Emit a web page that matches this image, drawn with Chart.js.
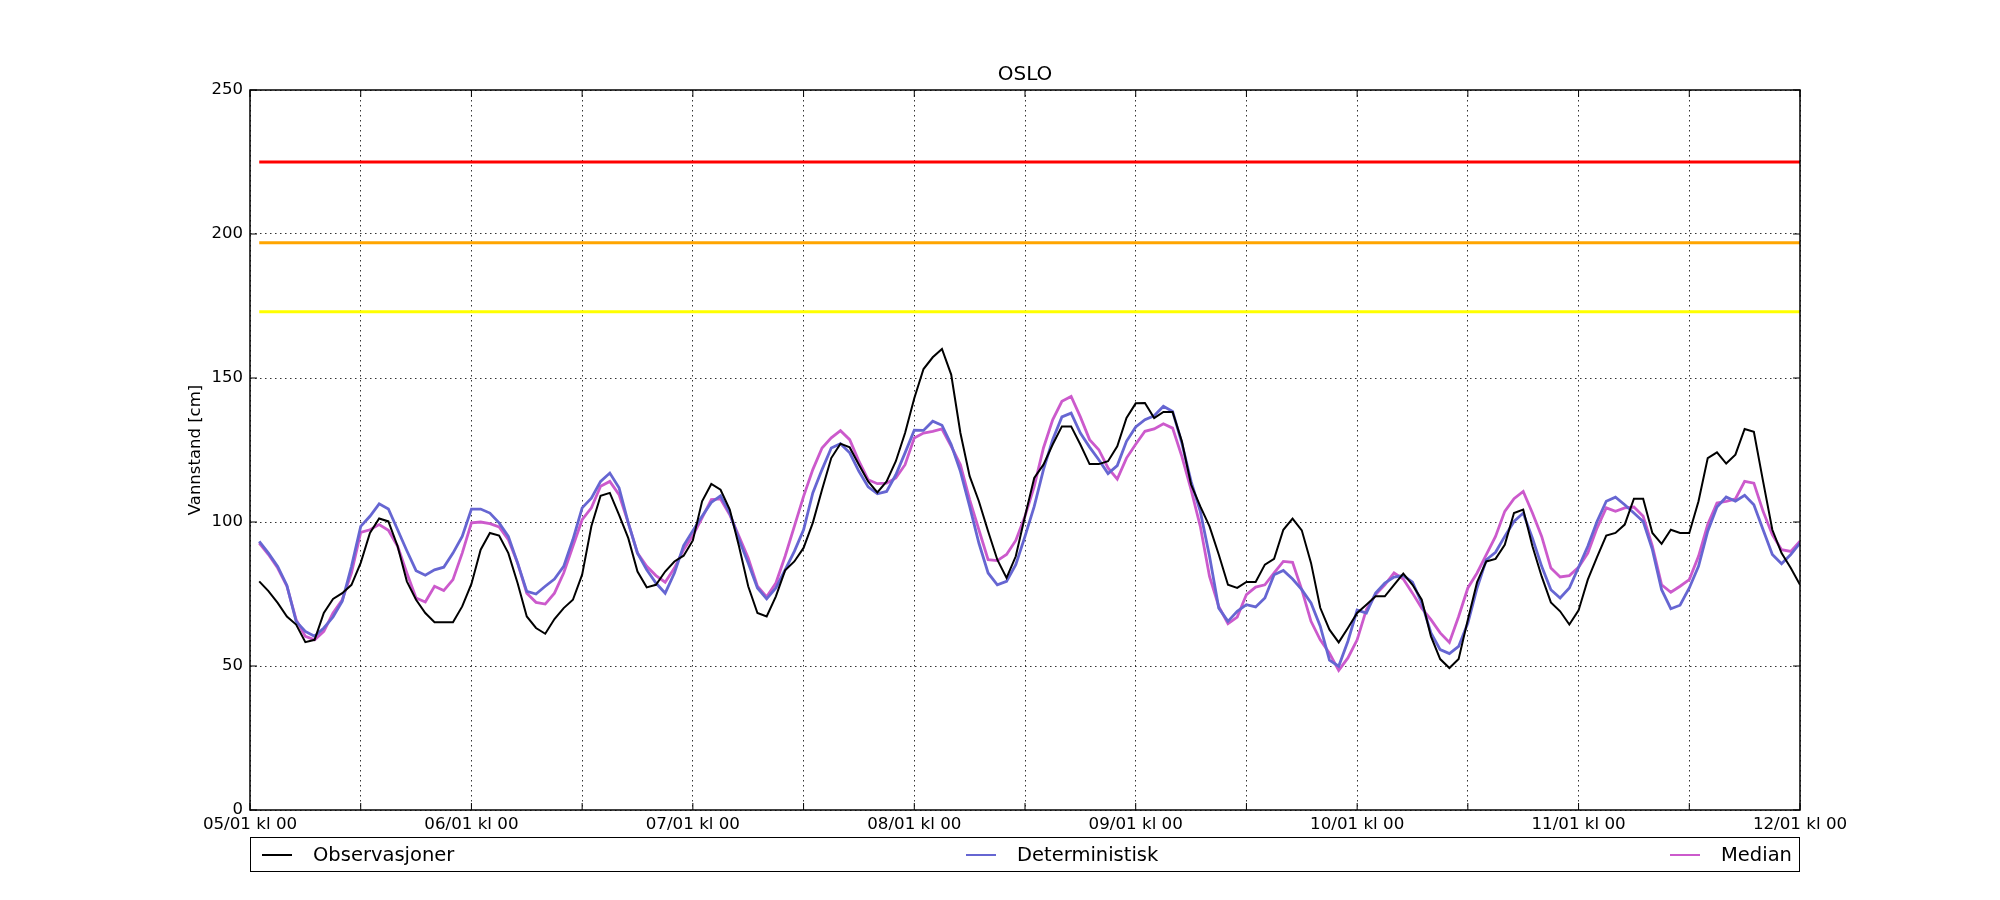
<!DOCTYPE html>
<html>
<head>
<meta charset="utf-8">
<script src="https://cdn.jsdelivr.net/npm/chart.js@4/dist/chart.umd.min.js"></script>
<style>
  body { margin: 0; background: #fff; }
  #wrap { position: relative; width: 2000px; height: 900px; }
  #legend {
    position: absolute; left: 250px; top: 837px; width: 1550px; height: 35px;
    box-sizing: border-box; border: 1.5px solid #000;
    display: flex; justify-content: space-between; align-items: center;
    padding: 0 7px 0 11px; font: 19.5px 'DejaVu Sans', sans-serif; color: #000;
  }
  #legend .item { display: flex; align-items: center; }
  #legend .swatch { width: 30px; margin-right: 21px; }
</style>
</head>
<body>
<div id="wrap">
  <canvas id="chart" width="2000" height="900"></canvas>
  <div id="legend"></div>
</div>
<script>
// tidsakse: timer fra 05/01 kl 00, en verdi per time
const firstHour = 1;
const lastHour = 168;
const dayLabels = ['05/01 kl 00', '06/01 kl 00', '07/01 kl 00', '08/01 kl 00',
  '09/01 kl 00', '10/01 kl 00', '11/01 kl 00', '12/01 kl 00'];

// observert vannstand (cm)
const observasjoner = [
  79.4, 76, 71.9, 67.2, 64.4, 58.3, 59.1, 68.4, 73.3, 75.3, 78.2, 85.8,
  96.2, 101.2, 100.2, 91.6, 79.4, 73, 68.4, 65.2, 65.2, 65.2, 70.7, 78.5,
  90.4, 96.2, 95.3, 89.2, 78.8, 67.2, 63.2, 61.2, 66.3, 70.1, 73, 81.7,
  98.5, 109.1, 110.1, 102.5, 94.4, 82.8, 77.3, 78.2, 82.8, 86.3, 88.3, 93.6,
  107.2, 113.2, 111.2, 104.3, 91.6, 77.7, 68.4, 67.2, 74.2, 83.2, 86.3, 91,
  99.7, 111.2, 122.2, 127.2, 125.9, 119.9, 114.1, 110.3, 114.1, 121.1, 130.9, 143,
  153.1, 157.2, 160.1, 151.2, 130.9, 115.9, 107.2, 96.8, 86.9, 80.6, 88.1, 102,
  115.3, 119.9, 126.9, 133.2, 133.2, 126.9, 120.1, 120.1, 121.1, 126.3, 136.1, 141.2,
  141.3, 136.1, 138.2, 138.2, 128, 113, 105.4, 98.5, 88.7, 78.2, 77.1, 79.2,
  79.2, 85.2, 87.2, 97.3, 101.2, 97.1, 85.8, 70.2, 62.6, 58.2, 63.2, 68.4,
  71.3, 74.2, 74.2, 78.2, 82.1, 78.2, 73, 60.3, 52.4, 49.3, 52.4, 66.1,
  79.1, 86.3, 87.2, 92.1, 103.1, 104.3, 91.6, 81.1, 72.1, 69, 64.4, 69.3,
  80, 87.8, 95.3, 96.2, 99.1, 108.1, 108.1, 96.2, 92.4, 97.3, 96.2, 96.2,
  107.2, 122.2, 124.2, 120.3, 123.4, 132.3, 131.3, 114.1, 97.3, 89.2, 84, 78.2
];

// deterministisk prognose (cm)
const deterministisk = [
  93.3, 89.2, 84.6, 78, 65.5, 62, 60.3, 63.2, 67, 72.5, 84.6, 98.5,
  102, 106.3, 104.5, 97.3, 90, 83.1, 81.5, 83.4, 84.3, 89.2, 95, 104.5,
  104.5, 103.1, 99.7, 95, 85.8, 75.9, 75, 77.7, 80.2, 84.6, 93.9, 104.9,
  108.3, 114.1, 117, 111.9, 99.7, 89.2, 83.4, 78.8, 75.3, 82.3, 91.8, 97,
  102, 106.8, 109.1, 103.1, 93.9, 85.8, 77.1, 73.3, 77.1, 83.4, 89.8, 97.3,
  110.1, 118.2, 125.7, 127.2, 124, 117.6, 112.2, 109.8, 110.6, 116.4, 124, 131.9,
  131.8, 135, 133.6, 126.9, 117.6, 105.4, 92.7, 82.3, 78.2, 79.4, 85.2, 95,
  105.4, 118.2, 128.6, 136.5, 137.8, 130.9, 126, 121.6, 116.8, 119.6, 128, 133,
  135.5, 136.9, 140.2, 138.4, 127.4, 114.1, 103.7, 88.1, 70.1, 65.5, 69, 71.3,
  70.5, 73.6, 81.7, 83.2, 80.2, 76.5, 71.9, 63.8, 52, 49.9, 58.6, 69.4,
  68.4, 75.3, 78.8, 80.9, 81.4, 79.1, 71.9, 61.5, 55.7, 54.3, 56.8, 64.9,
  77.1, 86.9, 89.5, 95, 100.2, 103.1, 94.4, 84.6, 76.5, 73.6, 77.1, 84.3,
  91.6, 100.2, 107.2, 108.6, 106, 103.1, 100.2, 90.4, 76.5, 69.9, 71.1, 77.1,
  84.6, 96.8, 105.2, 108.7, 107.2, 109.3, 106, 97.3, 88.7, 85.5, 88.7, 92.7
];

// median av ensemble (cm)
const median = [
  92.7, 88.7, 84, 77.7, 66.1, 60.3, 59.1, 62, 68.4, 73, 82.3, 96.4,
  97.3, 99.1, 97.1, 91.6, 82.3, 73.6, 72.2, 77.7, 76.2, 80, 89.2, 99.7,
  100, 99.4, 98.3, 93.9, 85.8, 75.3, 72.1, 71.5, 75.3, 82.3, 91.6, 100.8,
  104.9, 112.4, 114.1, 109.5, 99.7, 89.2, 84.6, 81.4, 79.1, 84, 90.4, 95.3,
  101.4, 107.8, 108, 102.5, 95, 87.5, 77.7, 74, 78.8, 88.1, 98.5, 108.9,
  118.2, 125.7, 129.2, 131.7, 128.6, 121.1, 114.7, 113.3, 113.5, 115.3, 119.9, 129.2,
  130.9, 131.5, 132.3, 126.3, 119.9, 107.8, 97.3, 86.9, 86.6, 88.7, 93.6, 102,
  112.4, 125.7, 135.5, 141.9, 143.6, 136.5, 128.6, 125.1, 118.8, 114.9, 122.2, 127,
  131.5, 132.3, 134.1, 132.6, 122.8, 111.2, 98.5, 81.1, 70.7, 64.7, 67, 74.8,
  77.4, 78.2, 82.3, 86.3, 86, 76.5, 65.5, 59.1, 54.4, 48.5, 52.8, 59.1,
  69.6, 74.8, 78.2, 82.3, 80.2, 75.3, 70.1, 66.1, 61.5, 58.2, 67.2, 77.1,
  82.3, 88.7, 95, 103.7, 108.1, 110.6, 103.1, 95, 84, 80.9, 81.4, 84.3,
  89.2, 97.9, 104.9, 103.7, 104.9, 105.2, 102, 91.6, 78.2, 75.6, 77.7, 80,
  88.1, 99.1, 106.6, 107.2, 108, 114.1, 113.5, 103.7, 95.6, 90.4, 89.8, 93.3
];

// farenivaa (cm): rod, oransje, gul
const thresholds = [225, 197, 173];
const thresholdColors = ['#ff0000', '#ffa500', '#ffff00'];

const FONT = "'DejaVu Sans', sans-serif";

function toPoints(values) {
  return values.map((v, i) => ({ x: firstHour + i, y: v }));
}

const seriesDefs = [
  { label: 'Observasjoner', data: observasjoner, color: '#000000', width: 2 },
  { label: 'Deterministisk', data: deterministisk, color: 'rgb(102,102,210)', width: 2.8 },
  { label: 'Median', data: median, color: 'rgb(204,90,204)', width: 2.8 }
];

const datasets = seriesDefs.map(s => ({
  label: s.label,
  data: toPoints(s.data),
  borderColor: s.color,
  backgroundColor: s.color,
  borderWidth: s.width,
  pointRadius: 0,
  tension: 0
}));

thresholds.forEach((t, i) => {
  datasets.push({
    label: 'terskel' + t,
    data: [{ x: firstHour, y: t }, { x: lastHour, y: t }],
    borderColor: thresholdColors[i],
    borderWidth: 3,
    pointRadius: 0
  });
});

// ramme rundt plottet og innovervendte tick-merker (matplotlib-stil)
const framePlugin = {
  id: 'frame',
  afterDatasetsDraw(chart) {
    const { ctx, chartArea: a, scales } = chart;
    ctx.save();
    ctx.strokeStyle = '#000';
    ctx.lineWidth = 1;
    scales.x.ticks.forEach(t => {
      const px = scales.x.getPixelForValue(t.value);
      ctx.beginPath();
      ctx.moveTo(px, a.bottom); ctx.lineTo(px, a.bottom - 7);
      ctx.moveTo(px, a.top); ctx.lineTo(px, a.top + 7);
      ctx.stroke();
    });
    scales.y.ticks.forEach(t => {
      const py = scales.y.getPixelForValue(t.value);
      ctx.beginPath();
      ctx.moveTo(a.left, py); ctx.lineTo(a.left + 7, py);
      ctx.moveTo(a.right, py); ctx.lineTo(a.right - 7, py);
      ctx.stroke();
    });
    ctx.lineWidth = 1.5;
    ctx.strokeRect(a.left, a.top, a.right - a.left, a.bottom - a.top);
    ctx.restore();
  }
};

const chart = new Chart(document.getElementById('chart'), {
  type: 'line',
  data: { datasets },
  options: {
    responsive: false,
    animation: false,
    devicePixelRatio: 1,
    layout: { padding: { top: 0, right: 200, bottom: 0, left: 0 } },
    plugins: {
      legend: { display: false },
      tooltip: { enabled: false },
      title: {
        display: true,
        fullSize: false,
        text: 'OSLO',
        color: '#000',
        font: { family: FONT, size: 20, weight: 'normal' },
        padding: { top: 63, bottom: 3 }
      }
    },
    scales: {
      x: {
        type: 'linear',
        min: 0,
        max: 168,
        afterFit(scale) {
          scale.height = 90;
          scale.paddingLeft = 0;
          scale.paddingRight = 0;
        },
        ticks: {
          stepSize: 12,
          autoSkip: false,
          maxRotation: 0,
          padding: 5,
          color: '#000',
          font: { family: FONT, size: 16.7 },
          callback: (v) => (v % 24 === 0 ? dayLabels[v / 24] : '')
        },
        grid: { color: 'rgba(0,0,0,0.8)', lineWidth: 1, drawTicks: false },
        border: { display: false, dash: [1.5, 3.5] }
      },
      y: {
        min: 0,
        max: 250,
        afterFit(scale) {
          scale.width = 250;
          scale.paddingTop = 0;
          scale.paddingBottom = 0;
        },
        ticks: {
          stepSize: 50,
          padding: 7,
          color: '#000',
          font: { family: FONT, size: 16.5 }
        },
        grid: { color: 'rgba(0,0,0,0.8)', lineWidth: 1, drawTicks: false },
        border: { display: false, dash: [1.5, 3.5] },
        title: {
          display: true,
          text: 'Vannstand [cm]',
          color: '#000',
          font: { family: FONT, size: 16.5 },
          padding: { top: 186, bottom: 0 }
        }
      }
    }
  },
  plugins: [framePlugin]
});

// forklaring under plottet, fordelt over hele bredden
const legendEl = document.getElementById('legend');
seriesDefs.forEach(s => {
  const item = document.createElement('div');
  item.className = 'item';
  const sw = document.createElement('span');
  sw.className = 'swatch';
  sw.style.borderTop = s.width + 'px solid ' + s.color;
  const txt = document.createElement('span');
  txt.textContent = s.label;
  item.appendChild(sw);
  item.appendChild(txt);
  legendEl.appendChild(item);
});
</script>
</body>
</html>
